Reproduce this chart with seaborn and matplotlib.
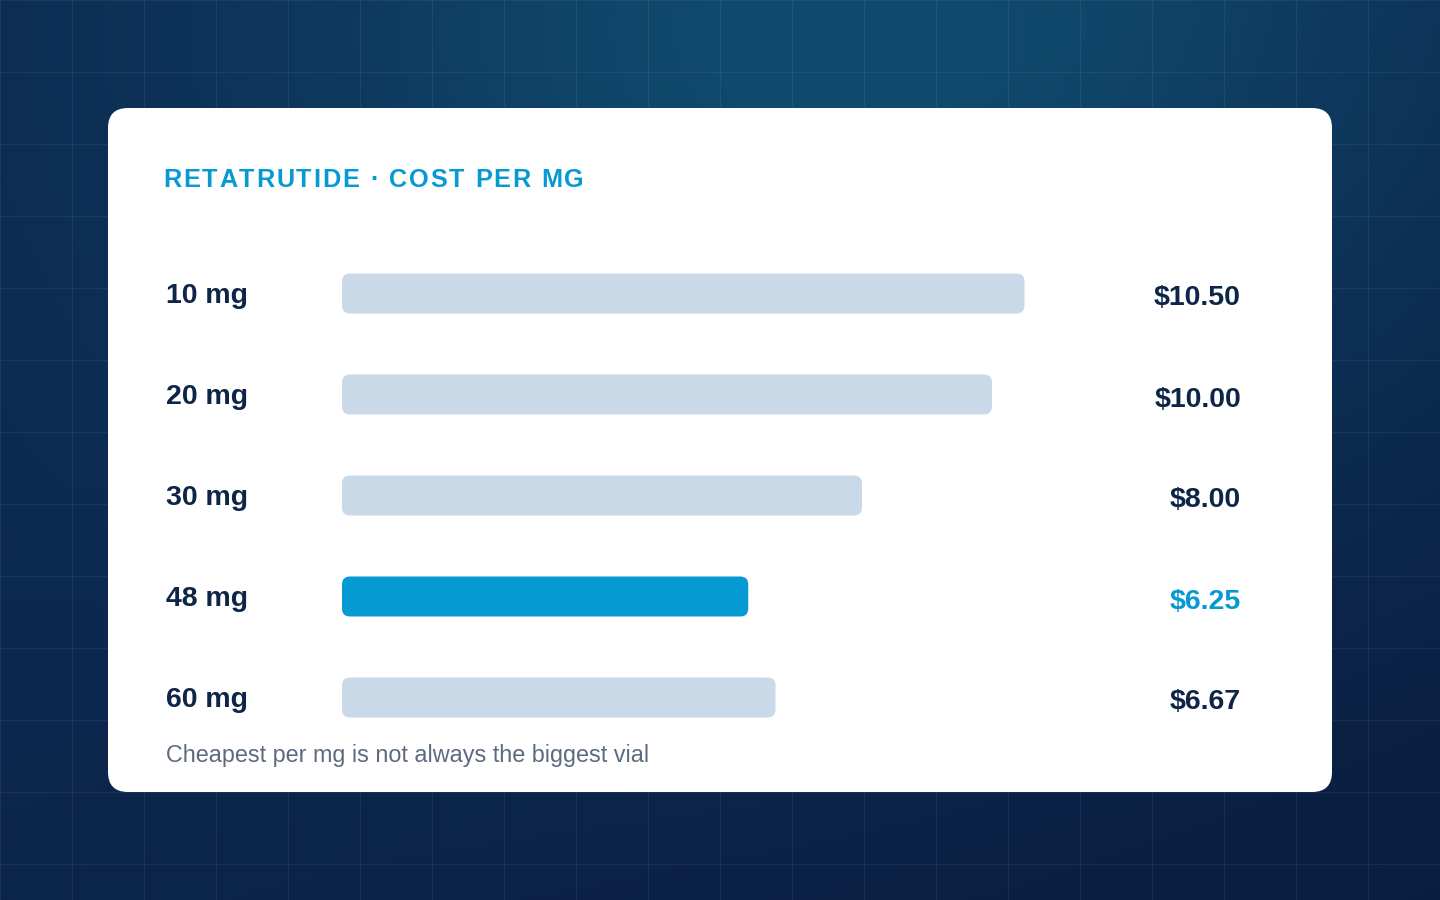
import numpy as np
import pandas as pd
import matplotlib
matplotlib.use("Agg")
import matplotlib.pyplot as plt
import matplotlib.transforms as mtransforms
from matplotlib.patches import FancyBboxPatch
import seaborn as sns

# Data
vials = ["10 mg", "20 mg", "30 mg", "48 mg", "60 mg"]
cost_per_mg = [10.50, 10.00, 8.00, 6.25, 6.67]
highlight = "48 mg"
title = "RETATRUTIDE · COST PER MG"
footnote = "Cheapest per mg is not always the biggest vial"

# Colours
BLUE = "#069ad2"
GREY_BAR = "#c9d9e7"
DARK = "#0f2547"
MUTED = "#5c6a80"

sns.set_style("white")
plt.rcParams["font.family"] = ["Liberation Sans", "DejaVu Sans"]

W, H = 1440, 900
fig = plt.figure(figsize=(W / 100, H / 100), dpi=100)


def fx(px):
    return px / W


def fy(py):
    return 1 - py / H


# Background: navy gradient with faint grid
bg = fig.add_axes([0, 0, 1, 1])
yy, xx = np.mgrid[0:H, 0:W].astype(float)
glow = np.exp(-((xx - 850) ** 2 + ((yy - 30) * 1.3) ** 2) / (2 * 420 ** 2))
dark = np.clip(xx / W * 0.5 + yy / H * 0.7 - 0.4, 0, 1)
base = np.array([13, 41, 81]) / 255
img = (base[None, None, :]
       + glow[..., None] * np.array([3, 34, 30])[None, None, :] / 255
       - dark[..., None] * np.array([4, 14, 22])[None, None, :] / 255)
bg.imshow(np.clip(img, 0, 1), extent=[0, W, H, 0], aspect="auto", interpolation="bilinear")
for gx in range(0, W + 1, 72):
    bg.axvline(gx, color="white", alpha=0.06, lw=0.8)
for gy in range(0, H + 1, 72):
    bg.axhline(gy, color="white", alpha=0.06, lw=0.8)
bg.set_xlim(0, W)
bg.set_ylim(H, 0)
bg.axis("off")

# White card
card = FancyBboxPatch((108, 108), 1224, 684, boxstyle="round,pad=0,rounding_size=20",
                      fc="white", ec="none", zorder=5)
bg.add_patch(card)

# Bar axes
px_per_unit = 65
row_px = 101
ax_w = 700
ax = fig.add_axes([fx(342), fy(243 + row_px * len(vials)), fx(ax_w), row_px * len(vials) / H])
ax.set_facecolor("none")

df = pd.DataFrame({"vial": vials, "cost": cost_per_mg})
palette = {v: (BLUE if v == highlight else GREY_BAR) for v in vials}
sns.barplot(data=df, x="cost", y="vial", hue="vial", palette=palette, orient="h",
            width=40 / row_px, legend=False, ax=ax, saturation=1)
ax.set_xlim(0, ax_w / px_per_unit)
ax.set_ylim(len(vials) - 0.5, -0.5)
ax.axis("off")

# rounded bars in place of the square ones
r = 8 / px_per_unit
for p in list(ax.patches):
    x0, y0, w, h = p.get_x(), p.get_y(), p.get_width(), p.get_height()
    fc = p.get_facecolor()
    p.remove()
    ax.add_patch(FancyBboxPatch((x0, y0), w, h, boxstyle=f"round,pad=0,rounding_size={r}",
                                mutation_aspect=px_per_unit / row_px, fc=fc, ec="none"))

# Row labels and values
row_tr = mtransforms.blended_transform_factory(fig.transFigure, ax.transData)
lab_tr = row_tr + mtransforms.ScaledTranslation(0, -9.5 / 100, fig.dpi_scale_trans)
val_tr = row_tr + mtransforms.ScaledTranslation(0, -12 / 100, fig.dpi_scale_trans)
for i, (v, c) in enumerate(zip(vials, cost_per_mg)):
    ax.text(fx(166), i, v, transform=lab_tr, ha="left", va="baseline",
            fontsize=20.5, fontweight="bold", color=DARK, clip_on=False)
    ax.text(fx(1241), i, f"${c:.2f}", transform=val_tr, ha="right", va="baseline",
            fontsize=20.5, fontweight="bold", color=(BLUE if v == highlight else DARK),
            clip_on=False)

# Title with letter spacing
renderer = fig.canvas.get_renderer()
x_cur = 163
for ch in title:
    t = fig.text(fx(x_cur), fy(187), ch, fontsize=18.2, fontweight="bold",
                 color=BLUE, ha="left", va="baseline")
    if ch == " ":
        adv = 18.2 * 100 / 72 * 0.278
    else:
        adv = t.get_window_extent(renderer).width
    x_cur += adv + 1.8

# Footnote
fig.text(fx(166), fy(762), footnote, fontsize=16.8, color=MUTED, ha="left", va="baseline")

fig.savefig("out.png", dpi=100)
